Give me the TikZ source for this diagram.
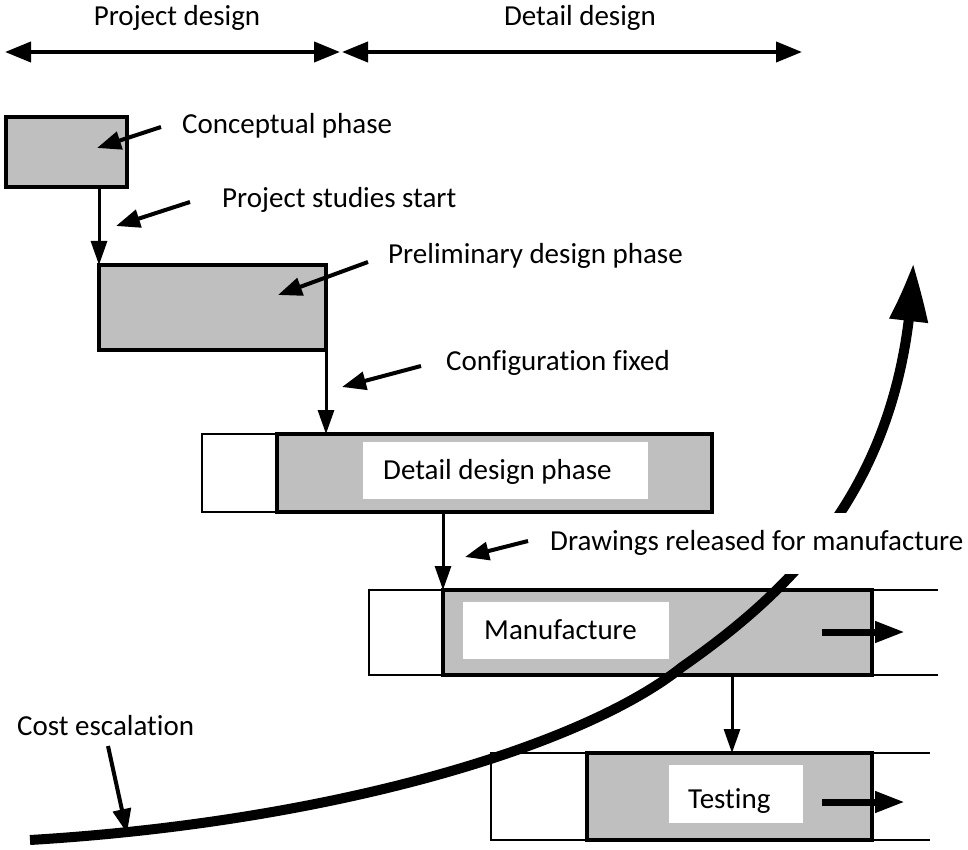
\documentclass[tikz,border=0pt]{standalone}
\usepackage{fontspec}
\setmainfont{Carlito}[Ligatures=NoCommon]
\usetikzlibrary{arrows.meta,bending}
\definecolor{phasegray}{HTML}{BFBFBF}
\begin{document}
\begin{tikzpicture}[x=1pt,y=-1pt,
  lbl/.style={inner sep=0pt, font=\fontsize{29}{35}\selectfont, anchor=base west},
  graybox/.style={draw, line width=4.5pt, fill=phasegray, inner sep=0pt, outer sep=0pt, anchor=north west},
  whitebox/.style={draw, line width=2.5pt, fill=white, inner sep=0pt, outer sep=0pt, anchor=north west},
  tagbox/.style={fill=white, draw=none, inner sep=0pt},
  flow/.style={line width=3pt, -{Triangle[length=24pt,width=16pt]}},
  callout/.style={line width=4pt, -{Triangle[length=24pt,width=18pt]}},
  span/.style={line width=4pt, {Triangle[length=26pt,width=20pt]}-{Triangle[length=26pt,width=20pt]}},
  push/.style={line width=7pt, -{Triangle[length=30pt,width=20pt]}},
  cost/.style={line width=10pt, -{Triangle[length=60pt,width=36pt,bend]}},
  ext/.style={line width=2.5pt}
]
\useasboundingbox (0,0) rectangle (968,850);

% phase spans
\coordinate (pa) at (5,52);
\coordinate (pb) at (340,52);
\coordinate (da) at (342,52);
\coordinate (db) at (802,52);
\draw[span] (pa) -- (pb);
\draw[span] (da) -- (db);
\node[lbl, anchor=base] (tproj) at (177,26) {Project design};
\node[lbl, anchor=base] (tdet) at (580,26) {Detail design};

% conceptual and preliminary
\node[graybox, minimum width=121pt, minimum height=70pt] (concept) at (6,117) {};
\node[graybox, minimum width=227pt, minimum height=85pt] (prelim) at (99,265) {};

% manufacture row
\node[whitebox, minimum width=74pt, minimum height=85pt] (manufw) at (369,590) {};
\node[graybox, minimum width=429pt, minimum height=85pt] (manuf) at (443,590) {};
\coordinate (me1) at (938,590);
\coordinate (me2) at (938,675);
\draw[ext] (manuf.north east) -- (me1);
\draw[ext] (manuf.south east) -- (me2);
\node[tagbox, minimum width=206pt, minimum height=57pt] (mtag) at (566,630.5) {};
\node[lbl] (tmanuf) at (484,639) {Manufacture};
\coordinate (mpa) at (822,632);
\coordinate (mpb) at (905,632);
\draw[push] (mpa) -- (mpb);

% testing row
\node[whitebox, minimum width=96pt, minimum height=87pt] (testw) at (491,753) {};
\node[graybox, minimum width=285pt, minimum height=87pt] (test) at (587,753) {};
\coordinate (te1) at (930,753);
\coordinate (te2) at (930,840);
\draw[ext] (test.north east) -- (te1);
\draw[ext] (test.south east) -- (te2);
\node[tagbox, minimum width=134pt, minimum height=58pt] (ttag) at (736,794) {};
\node[lbl] (ttest) at (688,808) {Testing};
\coordinate (tpa) at (822,802);
\coordinate (tpb) at (905,802);
\draw[push] (tpa) -- (tpb);

% cost escalation curve
\coordinate (c0) at (30,840);
\coordinate (c1) at (682,667);
\coordinate (c2) at (913,263);
\draw[cost] (c0) .. controls (330,822) and (582,747) .. (c1)
  .. controls (795,588) and (907,480) .. (c2);

\node[lbl, fill=white, inner ysep=15pt, text height=22pt, text depth=9pt] (tdraw) at (550,550) {Drawings released for manufacture};

% detail design row
\node[whitebox, minimum width=75pt, minimum height=78pt] (detailw) at (202,434) {};
\node[graybox, minimum width=435pt, minimum height=78pt] (detail) at (277,434) {};
\node[tagbox, minimum width=285pt, minimum height=57pt] (dtag) at (505.5,470.5) {};
\node[lbl] (tdetail) at (383,479) {Detail design phase};

% flow connectors
\draw[flow] (prelim.north west |- concept.south) -- (prelim.north west);
\draw[flow] (prelim.south east) -- (prelim.south east |- detail.north);
\draw[flow] (manuf.north west |- detail.south) -- (manuf.north west);
\coordinate (mt) at (732,675);
\draw[flow] (mt) -- (mt |- test.north);

% labels with callouts
\node[lbl] (tconc) at (182,134) {Conceptual phase};
\node[lbl] (tstud) at (222,208) {Project studies start};
\node[lbl] (tpre) at (388,263) {Preliminary design phase};
\node[lbl] (tconf) at (446,370) {Configuration fixed};
\node[lbl] (tcost) at (17,735) {Cost escalation};

\coordinate (k1a) at (161,127); \coordinate (k1b) at (97,148);
\coordinate (k2a) at (190,202); \coordinate (k2b) at (116,226);
\coordinate (k3a) at (368,262); \coordinate (k3b) at (278,295);
\coordinate (k4a) at (421,366); \coordinate (k4b) at (342,387);
\coordinate (k5a) at (528,541); \coordinate (k5b) at (465,557);
\coordinate (k6a) at (108,746); \coordinate (k6b) at (127,833);
\draw[callout] (k1a) -- (k1b);
\draw[callout] (k2a) -- (k2b);
\draw[callout] (k3a) -- (k3b);
\draw[callout] (k4a) -- (k4b);
\draw[callout] (k5a) -- (k5b);
\draw[callout] (k6a) -- (k6b);
\end{tikzpicture}
\end{document}
